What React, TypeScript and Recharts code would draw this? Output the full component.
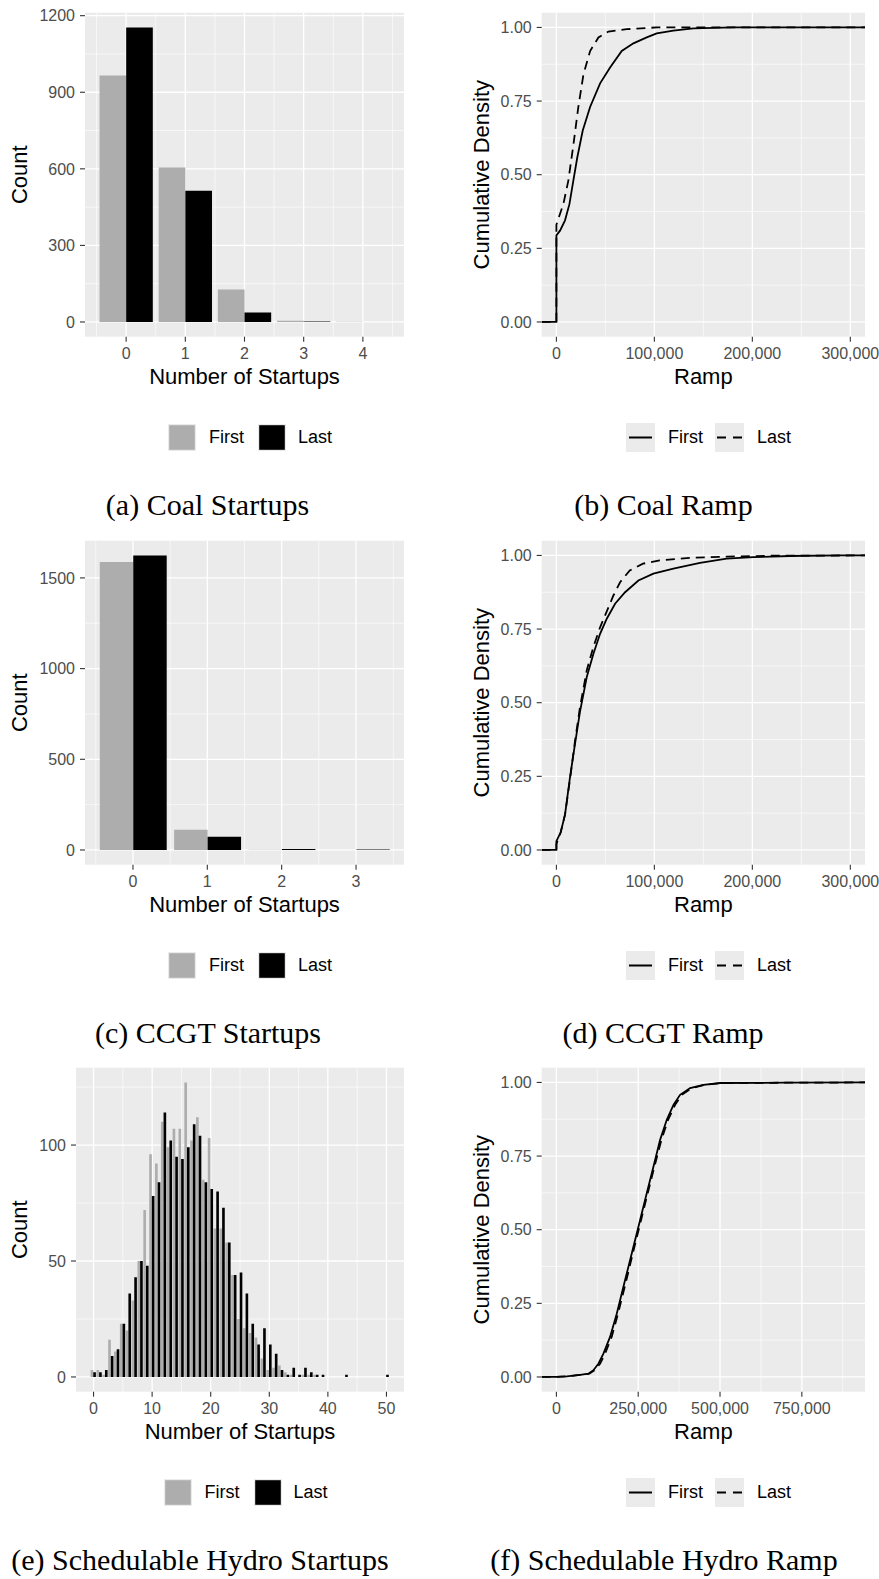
import React from 'react';
import { BarChart, Bar, LineChart, Line, XAxis, YAxis, CartesianGrid, Label } from 'recharts';

const SANS = '"Liberation Sans", Arial, Helvetica, sans-serif';
const SERIF = '"Liberation Serif", "Times New Roman", serif';
const PANEL_BG = '#EBEBEB';
const GRID = '#FFFFFF';
const FIRST_FILL = '#ADADAD';
const LAST_FILL = '#000000';
const TICK_TEXT = '#4D4D4D';
const TICK_LINE = '#333333';

// (a) coal startups
const coalStartups = [0, 1, 2, 3, 4];
const coalFirst = [966, 605, 127, 5, 1];
const coalLast = [1154, 514, 37, 2, 0];

// (c) CCGT startups
const ccgtStartups = [0, 1, 2, 3];
const ccgtFirst = [1588, 112, 1, 0];
const ccgtLast = [1623, 73, 5, 2];

// (e) schedulable hydro startups
const hydroStartups = [
  0, 1, 2, 3, 4, 5, 6, 7, 8, 9, 10, 11, 12, 13, 14, 15, 16, 17, 18, 19, 20, 21, 22, 23, 24, 25,
  26, 27, 28, 29, 30, 31, 32, 33, 34, 35, 36, 37, 38, 39, 40, 41, 42, 43, 44, 45, 46, 47, 48, 49, 50,
];
const hydroFirst = [
  3, 3, 1, 16, 11, 23, 20, 33, 50, 72, 96, 92, 110, 99, 107, 107, 127, 102, 112, 85, 103, 64, 64, 58, 44, 25,
  21, 19, 17, 8, 3, 4, 5, 2, 1, 0, 1, 1, 1, 0, 0, 0, 0, 0, 0, 0, 0, 0, 0, 0, 0,
];
const hydroLast = [
  2, 2, 3, 9, 12, 23, 36, 43, 50, 48, 78, 84, 114, 102, 95, 94, 99, 109, 104, 84, 81, 80, 73, 58, 44, 45,
  36, 23, 14, 21, 14, 10, 3, 1, 4, 1, 4, 2, 1, 1, 0, 0, 0, 1, 0, 0, 0, 0, 0, 0, 1,
];

// (b) coal ramp ecdf (first point / last point are the -Inf / Inf padding)
const coalRampFirstX = [-15000, 0, 0, 3700, 8800, 13300, 17300, 21400, 26900, 34400, 44600, 54800, 66700, 78600, 92200, 102400, 119400, 139800, 180600, 315000];
const coalRampFirstY = [0, 0, 0.294, 0.31, 0.345, 0.4, 0.48, 0.56, 0.65, 0.73, 0.81, 0.864, 0.92, 0.946, 0.966, 0.98, 0.989, 0.997, 1, 1];
const coalRampLastX = [-15000, 0, 0, 4000, 7100, 12200, 17300, 22400, 27600, 34400, 42900, 53100, 71800, 102400, 315000];
const coalRampLastY = [0, 0, 0.33, 0.37, 0.4, 0.48, 0.6, 0.73, 0.84, 0.92, 0.966, 0.986, 0.994, 1, 1];

// (d) CCGT ramp ecdf
const ccgtRampFirstX = [-15000, 0, 0, 4400, 8800, 13900, 19000, 24100, 31000, 37800, 44600, 51400, 59900, 70100, 83700, 99000, 119400, 146600, 173800, 201000, 238400, 289500, 315000];
const ccgtRampFirstY = [0, 0, 0.03, 0.06, 0.12, 0.247, 0.36, 0.47, 0.587, 0.666, 0.734, 0.785, 0.836, 0.875, 0.915, 0.938, 0.955, 0.975, 0.989, 0.994, 0.998, 1, 1];
const ccgtRampLastX = [-15000, 0, 0, 4400, 8800, 13900, 19000, 24100, 31000, 37800, 44600, 51400, 58200, 65000, 74900, 88400, 105400, 136100, 187100, 221100, 315000];
const ccgtRampLastY = [0, 0, 0.02, 0.06, 0.12, 0.24, 0.37, 0.485, 0.61, 0.69, 0.756, 0.81, 0.864, 0.909, 0.949, 0.972, 0.983, 0.992, 0.997, 0.999, 1];

// (f) schedulable hydro ramp ecdf
const hydroRampFirstX = [-44900, 0, 31600, 72400, 97800, 113100, 128400, 143700, 164000, 184400, 209900, 235400, 255800, 276100, 296500, 316900, 337300, 357700, 378000, 408600, 449400, 500300, 700000, 943000];
const hydroRampFirstY = [0, 0, 0.002, 0.007, 0.011, 0.023, 0.045, 0.079, 0.136, 0.215, 0.329, 0.442, 0.533, 0.624, 0.714, 0.805, 0.873, 0.924, 0.958, 0.981, 0.992, 0.998, 0.999, 1];
const hydroRampLastX = [-44900, 0, 31600, 72400, 100800, 117100, 133400, 148700, 169000, 188400, 213900, 238400, 258800, 279100, 299500, 320900, 341300, 362700, 383000, 413600, 454400, 505300, 700000, 943000];
const hydroRampLastY = [0, 0, 0.002, 0.007, 0.011, 0.023, 0.045, 0.079, 0.136, 0.215, 0.329, 0.442, 0.533, 0.624, 0.714, 0.805, 0.873, 0.924, 0.958, 0.981, 0.992, 0.998, 0.999, 1];

const rampTicks = [0, 100000, 200000, 300000];
const rampMinor = [50000, 150000, 250000];
const hydroRampTicks = [0, 250000, 500000, 750000];
const hydroRampMinor = [125000, 375000, 625000, 875000];
const cdfTicks = [0, 0.25, 0.5, 0.75, 1];
const cdfMinor = [0.125, 0.375, 0.625, 0.875];

// layout
const ROW_TOPS = [0, 528, 1055];
const PANEL_H = 400;
const PLOT_TOP = 12.7;
const PLOT_BOTTOM = 336.7;
const X_AXIS_H = 40;
const LEFT_W = 440;
const LEFT_PLOT_RIGHT = 404;
const RIGHT_X = 440;
const RIGHT_W = 439;
const RIGHT_PLOT_LEFT = 101.7;
const RIGHT_PLOT_RIGHT = 425;

const tickStyle = { fill: TICK_TEXT, fontSize: 16, fontFamily: SANS };
const tickLine = { stroke: TICK_LINE, strokeWidth: 1.1 };

const toRows = (xs: number[], a: number[], b: number[]) => xs.map((n, i) => ({ n, first: a[i], last: b[i] }));
const toPoints = (xs: number[], ys: number[]) => xs.map((x, i) => ({ x, y: ys[i] }));
const comma = (v: number) => v.toLocaleString('en-US');

const xTitle = (text: string) => (props: any) => {
  const vb = props.viewBox;
  return (
    <text x={vb.x + vb.width / 2} y={vb.y + 40} textAnchor="middle" dominantBaseline="central" fontFamily={SANS} fontSize={22} fill="#000">
      {text}
    </text>
  );
};

const yTitle = (text: string, cx: number) => (props: any) => {
  const vb = props.viewBox;
  const cy = vb.y + vb.height / 2;
  return (
    <text x={cx} y={cy} transform={`rotate(-90 ${cx} ${cy})`} textAnchor="middle" dominantBaseline="central" fontFamily={SANS} fontSize={22} fill="#000">
      {text}
    </text>
  );
};

const Caption = ({ text, cx, cy }: { text: string; cx: number; cy: number }) => (
  <div style={{ position: 'absolute', left: cx - 220, top: cy - 18, width: 440, height: 36, lineHeight: '36px', textAlign: 'center', fontFamily: SERIF, fontSize: 30, color: '#000' }}>
    {text}
  </div>
);

const legendText = { position: 'absolute' as const, fontFamily: SANS, fontSize: 18, color: '#000', lineHeight: '20px' };

const BarLegend = ({ left, cy }: { left: number; cy: number }) => (
  <>
    <svg style={{ position: 'absolute', left, top: cy - 13.5 }} width={28} height={27}>
      <rect x={0} y={0} width={28} height={27} fill={PANEL_BG} />
      <rect x={1.2} y={1.2} width={25.6} height={24.6} fill={FIRST_FILL} />
    </svg>
    <div style={{ ...legendText, left: left + 41, top: cy - 10 }}>First</div>
    <svg style={{ position: 'absolute', left: left + 90, top: cy - 13.5 }} width={28} height={27}>
      <rect x={0} y={0} width={28} height={27} fill={PANEL_BG} />
      <rect x={1.2} y={1.2} width={25.6} height={24.6} fill={LAST_FILL} />
    </svg>
    <div style={{ ...legendText, left: left + 130, top: cy - 10 }}>Last</div>
  </>
);

const LineLegend = ({ left, cy }: { left: number; cy: number }) => (
  <>
    <svg style={{ position: 'absolute', left, top: cy - 14.5 }} width={29} height={29}>
      <rect x={0} y={0} width={29} height={29} fill={PANEL_BG} />
      <line x1={3} x2={26} y1={14.5} y2={14.5} stroke="#000" strokeWidth={2} />
    </svg>
    <div style={{ ...legendText, left: left + 42, top: cy - 10 }}>First</div>
    <svg style={{ position: 'absolute', left: left + 89, top: cy - 14.5 }} width={29} height={29}>
      <rect x={0} y={0} width={29} height={29} fill={PANEL_BG} />
      <line x1={2} x2={27} y1={14.5} y2={14.5} stroke="#000" strokeWidth={2} strokeDasharray="9 7" />
    </svg>
    <div style={{ ...legendText, left: left + 131, top: cy - 10 }}>Last</div>
  </>
);

type BarPanelProps = {
  top: number;
  plotLeft: number;
  rows: { n: number; first: number; last: number }[];
  xDomain: [number, number];
  xTicks: number[];
  xMinor: number[];
  yDomain: [number, number];
  yTicks: number[];
  yMinor: number[];
};

const BarPanel = ({ top, plotLeft, rows, xDomain, xTicks, xMinor, yDomain, yTicks, yMinor }: BarPanelProps) => {
  const unit = (LEFT_PLOT_RIGHT - plotLeft) / (xDomain[1] - xDomain[0]);
  return (
    <div style={{ position: 'absolute', left: 0, top, width: LEFT_W, height: PANEL_H }}>
      <BarChart
        width={LEFT_W}
        height={PANEL_H}
        data={rows}
        margin={{ top: PLOT_TOP, right: LEFT_W - LEFT_PLOT_RIGHT, bottom: PANEL_H - PLOT_BOTTOM - X_AXIS_H, left: 0 }}
        barGap={0}
        barCategoryGap="5%"
      >
        <CartesianGrid fill={PANEL_BG} fillOpacity={1} stroke={GRID} strokeWidth={0.6} horizontalValues={yMinor} verticalValues={xMinor} />
        <CartesianGrid stroke={GRID} strokeWidth={1.3} horizontalValues={yTicks} verticalValues={xTicks} />
        <XAxis
          type="number"
          dataKey="n"
          domain={xDomain}
          ticks={xTicks}
          interval={0}
          allowDataOverflow
          height={X_AXIS_H}
          axisLine={false}
          tickLine={tickLine}
          tickSize={5}
          tickMargin={6}
          tick={tickStyle}
        >
          <Label content={xTitle('Number of Startups')} />
        </XAxis>
        <YAxis
          type="number"
          domain={yDomain}
          ticks={yTicks}
          interval={0}
          allowDataOverflow
          width={plotLeft}
          axisLine={false}
          tickLine={tickLine}
          tickSize={5}
          tickMargin={5}
          tick={tickStyle}
        >
          <Label content={yTitle('Count', 20)} />
        </YAxis>
        <Bar dataKey="first" fill={FIRST_FILL} barSize={unit * 0.45} isAnimationActive={false} />
        <Bar dataKey="last" fill={LAST_FILL} barSize={unit * 0.45} isAnimationActive={false} />
      </BarChart>
    </div>
  );
};

type RampPanelProps = {
  top: number;
  first: { x: number; y: number }[];
  last: { x: number; y: number }[];
  xDomain: [number, number];
  xTicks: number[];
  xMinor: number[];
};

const RampPanel = ({ top, first, last, xDomain, xTicks, xMinor }: RampPanelProps) => (
  <div style={{ position: 'absolute', left: RIGHT_X, top, width: RIGHT_W, height: PANEL_H }}>
    <LineChart
      width={RIGHT_W}
      height={PANEL_H}
      margin={{ top: PLOT_TOP, right: RIGHT_W - RIGHT_PLOT_RIGHT, bottom: PANEL_H - PLOT_BOTTOM - X_AXIS_H, left: 0 }}
    >
      <CartesianGrid fill={PANEL_BG} fillOpacity={1} stroke={GRID} strokeWidth={0.6} horizontalValues={cdfMinor} verticalValues={xMinor} />
      <CartesianGrid stroke={GRID} strokeWidth={1.3} horizontalValues={cdfTicks} verticalValues={xTicks} />
      <XAxis
        type="number"
        dataKey="x"
        domain={xDomain}
        ticks={xTicks}
        interval={0}
        allowDataOverflow
        height={X_AXIS_H}
        axisLine={false}
        tickLine={tickLine}
        tickSize={5}
        tickMargin={6}
        tick={tickStyle}
        tickFormatter={comma}
      >
        <Label content={xTitle('Ramp')} />
      </XAxis>
      <YAxis
        type="number"
        domain={[-0.05, 1.05]}
        ticks={cdfTicks}
        interval={0}
        allowDataOverflow
        width={RIGHT_PLOT_LEFT}
        axisLine={false}
        tickLine={tickLine}
        tickSize={5}
        tickMargin={5}
        tick={tickStyle}
        tickFormatter={(v: number) => v.toFixed(2)}
      >
        <Label content={yTitle('Cumulative Density', 41.7)} />
      </YAxis>
      <Line data={last} dataKey="y" type="linear" stroke="#000" strokeWidth={1.8} strokeDasharray="9 6" dot={false} activeDot={false} isAnimationActive={false} />
      <Line data={first} dataKey="y" type="linear" stroke="#000" strokeWidth={1.8} dot={false} activeDot={false} isAnimationActive={false} />
    </LineChart>
  </div>
);

export default function App() {
  return (
    <div style={{ position: 'absolute', left: 0, top: 0, width: 879, height: 1579, overflow: 'hidden', background: '#fff' }}>
      <BarPanel
        top={ROW_TOPS[0]}
        plotLeft={85}
        rows={toRows(coalStartups, coalFirst, coalLast)}
        xDomain={[-0.695, 4.695]}
        xTicks={[0, 1, 2, 3, 4]}
        xMinor={[-0.5, 0.5, 1.5, 2.5, 3.5, 4.5]}
        yDomain={[-57.7, 1211.7]}
        yTicks={[0, 300, 600, 900, 1200]}
        yMinor={[150, 450, 750, 1050]}
      />
      <RampPanel
        top={ROW_TOPS[0]}
        first={toPoints(coalRampFirstX, coalRampFirstY)}
        last={toPoints(coalRampLastX, coalRampLastY)}
        xDomain={[-15000, 315000]}
        xTicks={rampTicks}
        xMinor={rampMinor}
      />
      <BarPanel
        top={ROW_TOPS[1]}
        plotLeft={85}
        rows={toRows(ccgtStartups, ccgtFirst, ccgtLast)}
        xDomain={[-0.645, 3.645]}
        xTicks={[0, 1, 2, 3]}
        xMinor={[-0.5, 0.5, 1.5, 2.5, 3.5]}
        yDomain={[-81.2, 1705.2]}
        yTicks={[0, 500, 1000, 1500]}
        yMinor={[250, 750, 1250]}
      />
      <RampPanel
        top={ROW_TOPS[1]}
        first={toPoints(ccgtRampFirstX, ccgtRampFirstY)}
        last={toPoints(ccgtRampLastX, ccgtRampLastY)}
        xDomain={[-15000, 315000]}
        xTicks={rampTicks}
        xMinor={rampMinor}
      />
      <BarPanel
        top={ROW_TOPS[2]}
        plotLeft={76}
        rows={toRows(hydroStartups, hydroFirst, hydroLast)}
        xDomain={[-2.995, 52.995]}
        xTicks={[0, 10, 20, 30, 40, 50]}
        xMinor={[5, 15, 25, 35, 45]}
        yDomain={[-6.35, 133.35]}
        yTicks={[0, 50, 100]}
        yMinor={[25, 75, 125]}
      />
      <RampPanel
        top={ROW_TOPS[2]}
        first={toPoints(hydroRampFirstX, hydroRampFirstY)}
        last={toPoints(hydroRampLastX, hydroRampLastY)}
        xDomain={[-44900, 943000]}
        xTicks={hydroRampTicks}
        xMinor={hydroRampMinor}
      />

      <BarLegend left={168} cy={ROW_TOPS[0] + 437} />
      <LineLegend left={626} cy={ROW_TOPS[0] + 437} />
      <BarLegend left={168} cy={ROW_TOPS[1] + 437} />
      <LineLegend left={626} cy={ROW_TOPS[1] + 437} />
      <BarLegend left={163.5} cy={ROW_TOPS[2] + 437} />
      <LineLegend left={626} cy={ROW_TOPS[2] + 437} />

      <Caption text="(a) Coal Startups" cx={207.5} cy={ROW_TOPS[0] + 505} />
      <Caption text="(b) Coal Ramp" cx={663.5} cy={ROW_TOPS[0] + 505} />
      <Caption text="(c) CCGT Startups" cx={208} cy={ROW_TOPS[1] + 505} />
      <Caption text="(d) CCGT Ramp" cx={663} cy={ROW_TOPS[1] + 505} />
      <Caption text="(e) Schedulable Hydro Startups" cx={200} cy={ROW_TOPS[2] + 505} />
      <Caption text="(f) Schedulable Hydro Ramp" cx={664} cy={ROW_TOPS[2] + 505} />
    </div>
  );
}
